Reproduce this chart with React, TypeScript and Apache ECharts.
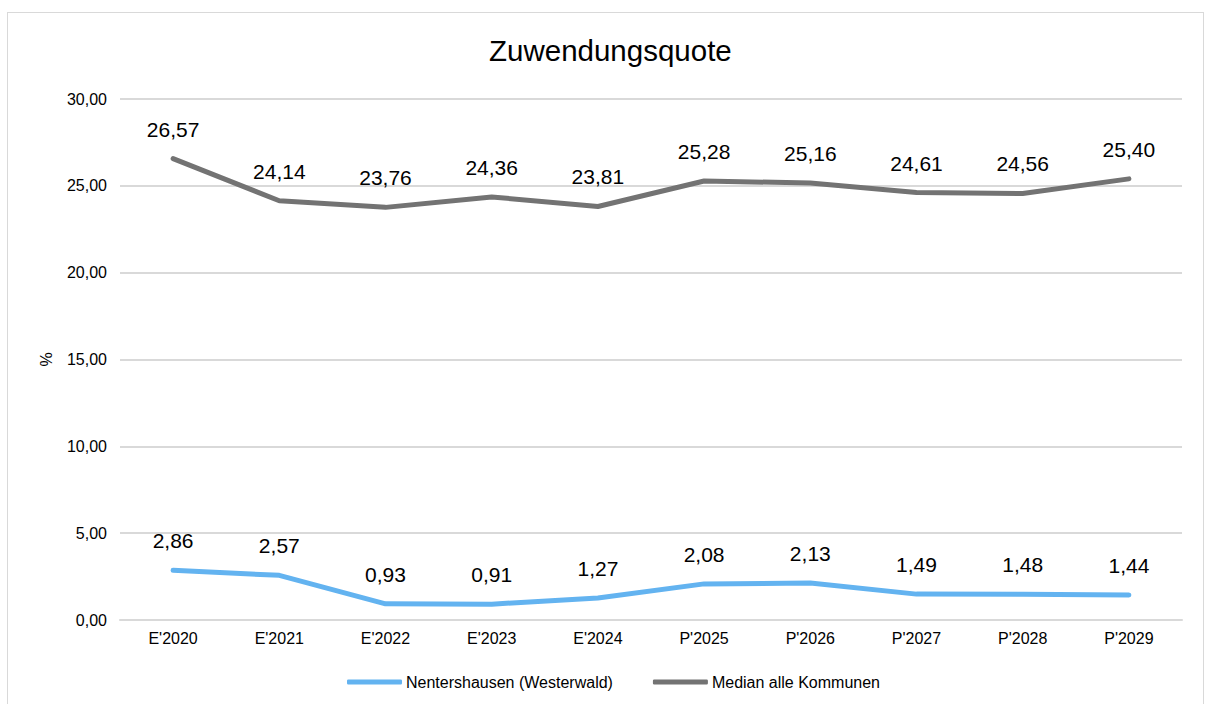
import React, { useEffect, useRef } from "react";
import * as echarts from "echarts";

const categories = ["E'2020", "E'2021", "E'2022", "E'2023", "E'2024", "P'2025", "P'2026", "P'2027", "P'2028", "P'2029"];
const nentershausen = [2.86, 2.57, 0.93, 0.91, 1.27, 2.08, 2.13, 1.49, 1.48, 1.44];
const median = [26.57, 24.14, 23.76, 24.36, 23.81, 25.28, 25.16, 24.61, 24.56, 25.4];
const seriesNames = ["Nentershausen (Westerwald)", "Median alle Kommunen"];

const fmt = (v: number) => v.toFixed(2).replace(".", ",");
const FONT = "'Liberation Sans', Arial, sans-serif";

export default function App() {
  const ref = useRef<HTMLDivElement>(null);
  useEffect(() => {
    if (!ref.current) return;
    const chart = echarts.init(ref.current, null, { renderer: "svg" });
    const labelStyle = {
      show: true,
      position: "top" as const,
      distance: 19,
      fontSize: 21,
      color: "#000",
      fontFamily: FONT,
      formatter: (p: any) => fmt(p.value),
    };
    chart.setOption({
      animation: false,
      textStyle: { fontFamily: FONT },
      title: {
        text: "Zuwendungsquote",
        left: 484,
        top: 30,
        textStyle: { fontSize: 29.5, fontWeight: "normal", color: "#000", fontFamily: FONT },
      },
      grid: { left: 120, right: 24, top: 99, bottom: 84, containLabel: false },
      legend: {
        bottom: 9,
        left: 342,
        itemWidth: 55,
        itemHeight: 5,
        itemGap: 40,
        icon: "roundRect",
        textStyle: { fontSize: 16, color: "#000", fontFamily: FONT, padding: [0, 0, 0, -1] },
        data: seriesNames,
      },
      xAxis: {
        type: "category",
        data: categories,
        boundaryGap: true,
        axisLine: { show: true, lineStyle: { color: "#d9d9d9", width: 2 } },
        axisTick: { show: false },
        axisLabel: { fontSize: 16, color: "#000", margin: 10, fontFamily: FONT },
      },
      yAxis: {
        type: "value",
        min: 0,
        max: 30,
        interval: 5,
        name: "%",
        nameLocation: "middle",
        nameGap: 66,
        nameRotate: 90,
        nameTextStyle: { fontSize: 16, color: "#000", fontFamily: FONT },
        axisLine: { show: false },
        axisTick: { show: false },
        axisLabel: { fontSize: 16, color: "#000", margin: 13, fontFamily: FONT, formatter: (v: number) => fmt(v) },
        splitLine: { lineStyle: { color: "#d9d9d9", width: 2 } },
      },
      series: [
        {
          name: seriesNames[0],
          type: "line",
          data: nentershausen,
          symbol: "circle",
          symbolSize: 0,
          showSymbol: true,
          lineStyle: { color: "#63b3f0", width: 5, cap: "round", join: "round" },
          itemStyle: { color: "#63b3f0" },
          label: labelStyle,
        },
        {
          name: seriesNames[1],
          type: "line",
          data: median,
          symbol: "circle",
          symbolSize: 0,
          showSymbol: true,
          lineStyle: { color: "#737373", width: 5, cap: "round", join: "round" },
          itemStyle: { color: "#737373" },
          label: labelStyle,
        },
      ],
    });
    return () => chart.dispose();
  }, []);
  return (
    <div style={{ position: "absolute", left: 0, top: 0, width: 1206, height: 704, background: "#fff", overflow: "hidden" }}>
      <div style={{ position: "absolute", left: 7, top: 12, width: 1197, height: 700, border: "1px solid #d9d9d9", boxSizing: "border-box" }} />
      <div ref={ref} style={{ position: "absolute", left: 0, top: 0, width: 1206, height: 704 }} />
    </div>
  );
}
